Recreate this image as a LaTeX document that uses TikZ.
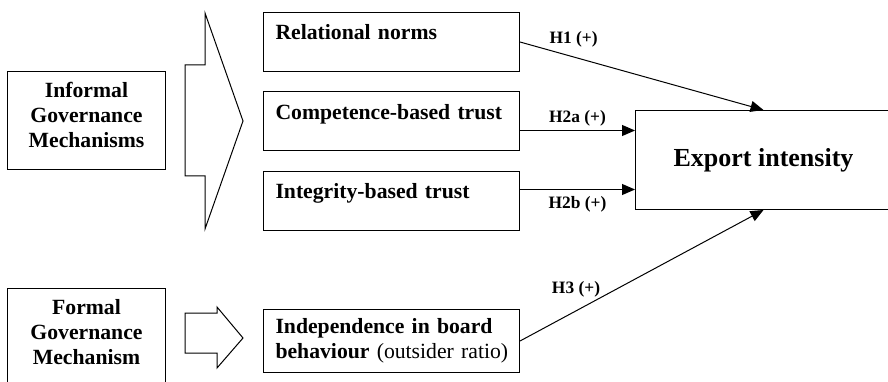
\documentclass[tikz,border=0pt]{standalone}
\usepackage{fontspec}
\setmainfont{Liberation Serif}
\usetikzlibrary{arrows.meta, positioning, calc}

\begin{document}
\begin{tikzpicture}[x=1pt, y=-1pt, node distance=19.5pt, >={Triangle[length=13pt,width=11pt]}, line width=1pt,
        govbox/.style={draw, anchor=north west, text width=146pt, inner xsep=6pt, inner ysep=12pt, align=center,
            font=\fontsize{21.7}{25}\selectfont\bfseries, text height=14pt, text depth=60pt},
        factor/.style={draw, anchor=north west, text width=232pt, inner xsep=12pt, inner ysep=13pt, align=left,
            font=\fontsize{21.7}{25}\selectfont\bfseries, text height=14.4pt, text depth=18.6pt},
        hlab/.style={font=\fontsize{17.4}{20}\selectfont\bfseries}]
        \useasboundingbox (0,0) rectangle (888,382);

        \node[govbox] (inf) at (7,71) {Informal\\Governance\\Mechanisms};
        \node[govbox] (form) at (7,288) {Formal\\Governance\\Mechanism};

        \node[factor] (rel) at (263,12) {Relational norms};
        \node[factor, below=of rel] (comp) {Competence-based trust};
        \node[factor, below=of comp] (integ) {Integrity-based trust};
        \node[draw, text width=232pt, inner xsep=12pt, align=left, minimum height=63pt,
            font=\fontsize{21.7}{25}\selectfont, below=78pt of integ] (ind)
            {\mbox{\textbf{Independence in board}}\\\mbox{\textbf{behaviour} (outsider ratio)}};

        \node[draw, anchor=north west, minimum width=256pt, minimum height=99pt,
            font=\fontsize{26}{30}\selectfont\bfseries] (exp) at (635,110) {Export intensity};

        % block arrows
        \draw (185,65) -- (205,65) -- (205,13) -- (243,121) -- (205,229) -- (205,176) -- (185,176) -- cycle;
        \draw (185,313) -- (217,313) -- (217,307) -- (243,338) -- (217,368) -- (217,353) -- (185,353) -- cycle;

        \coordinate (in2a) at ([yshift=29.5pt]exp.west);
        \coordinate (in2b) at ([yshift=-29.5pt]exp.west);

        \draw[->] (rel.east) -- node[hlab, pos=0.22, above=6pt] (h1) {H1 (+)} (exp.north);
        \draw[->] (comp.east |- in2a) -- node[hlab, above] (h2a) {H2a (+)} (in2a);
        \draw[->] (integ.east |- in2b) -- node[hlab, below=3.5pt] (h2b) {H2b (+)} (in2b);
        \draw[->] (ind.east) -- node[hlab, pos=0.23, above=10pt] (h3) {H3 (+)} (exp.south);
    \end{tikzpicture}
\end{document}
